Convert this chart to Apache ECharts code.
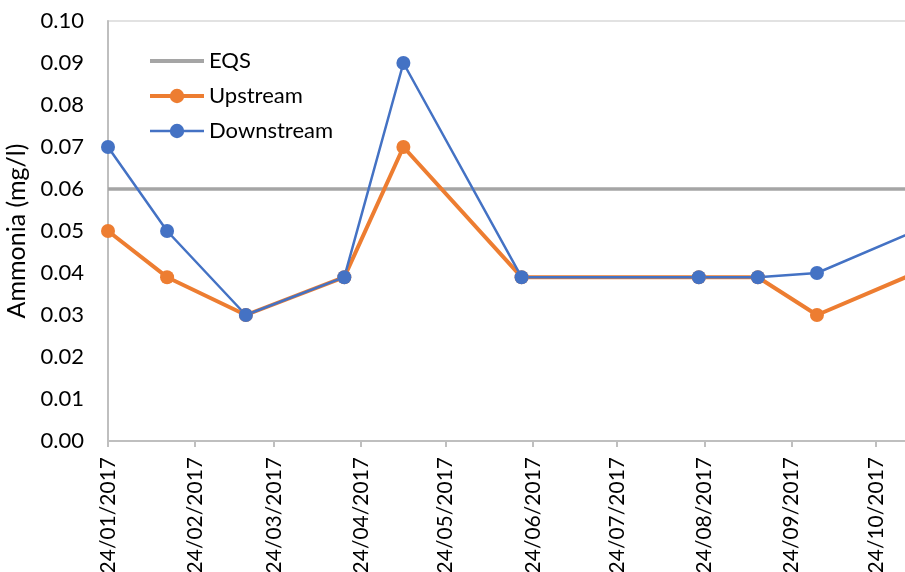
<!DOCTYPE html>
<html>
<head>
<meta charset="utf-8">
<style>
  html, body { margin: 0; padding: 0; background: #fff; }
  #chart { width: 905px; height: 572px; }
</style>
<script src="https://cdn.jsdelivr.net/npm/echarts@6/dist/echarts.min.js"></script>
</head>
<body>
<div id="chart"></div>
<script>
// Sampling dates and ammonia concentrations (mg/l)
const sampleDates = ['2017-01-24', '2017-02-14', '2017-03-14', '2017-04-18', '2017-05-09',
                     '2017-06-20', '2017-08-22', '2017-09-12', '2017-10-03', '2017-11-07'];
const upstream   = [0.05, 0.039, 0.03, 0.039, 0.07, 0.039, 0.039, 0.039, 0.03, 0.04];
const downstream = [0.07, 0.05,  0.03, 0.039, 0.09, 0.039, 0.039, 0.039, 0.04, 0.05];
const eqsLimit = 0.06;

// Axis range and tick marks (24th of each month)
const axisStart = '2017-01-24';
const axisEnd = '2017-11-04';
const tickDates = ['2017-01-24', '2017-02-24', '2017-03-24', '2017-04-24', '2017-05-24',
                   '2017-06-24', '2017-07-24', '2017-08-24', '2017-09-24', '2017-10-24'];
const yMin = 0, yMax = 0.1, yStep = 0.01;

function toTime(s) {
  const p = s.split('-').map(Number);
  return new Date(p[0], p[1] - 1, p[2]).getTime();
}
function pad(n) { return (n < 10 ? '0' : '') + n; }
function fmtDate(v) {
  const d = new Date(v);
  return pad(d.getDate()) + '/' + pad(d.getMonth() + 1) + '/' + d.getFullYear();
}

const tickTimes = tickDates.map(toTime);
const upData = sampleDates.map((d, i) => [toTime(d), upstream[i]]);
const downData = sampleDates.map((d, i) => [toTime(d), downstream[i]]);
const eqsData = [[toTime(axisStart), eqsLimit], [toTime('2017-12-31'), eqsLimit]];

const FONT = 'Lato, "Open Sans", sans-serif';
const axisGrey = '#BFBFBF';

const chart = echarts.init(document.getElementById('chart'), null, { renderer: 'canvas' });
chart.setOption({
  animation: false,
  backgroundColor: '#ffffff',
  textStyle: { fontFamily: FONT, color: '#000' },
  grid: {
    left: 108, right: -2, top: 21, bottom: 131,
    containLabel: false, outerBoundsMode: 'none',
    show: true, borderColor: '#D9D9D9', borderWidth: 1.5, backgroundColor: 'transparent'
  },
  legend: {
    orient: 'vertical',
    left: 148, top: 50, padding: 0,
    itemWidth: 54, itemHeight: 18, itemGap: 13,
    textStyle: { fontFamily: FONT, fontSize: 22, color: '#000' },
    data: [
      { name: 'EQS', icon: 'path://M0 0H54V4H0Z' },
      { name: 'Upstream', lineStyle: { width: 4 } },
      { name: 'Downstream', lineStyle: { width: 2.5 } }
    ]
  },
  xAxis: {
    type: 'value',
    min: toTime(axisStart),
    max: toTime(axisEnd),
    splitLine: { show: false },
    axisLine: { show: true, lineStyle: { color: axisGrey, width: 2 } },
    axisTick: { show: true, length: 6, lineStyle: { color: axisGrey, width: 2 }, customValues: tickTimes },
    axisLabel: {
      customValues: tickTimes,
      rotate: 90, margin: 16,
      fontFamily: FONT, fontSize: 21, color: '#000',
      formatter: fmtDate, hideOverlap: false
    }
  },
  yAxis: {
    type: 'value',
    min: yMin, max: yMax, interval: yStep,
    name: 'Ammonia (mg/l)',
    nameLocation: 'middle', nameGap: 73, nameRotate: 90,
    nameTextStyle: { fontFamily: FONT, fontSize: 25, color: '#000' },
    splitLine: { show: false },
    axisLine: { show: true, lineStyle: { color: axisGrey, width: 2 } },
    axisTick: { show: false },
    axisLabel: {
      margin: 24, fontFamily: FONT, fontSize: 22, color: '#000',
      formatter: v => v.toFixed(2)
    }
  },
  series: [
    {
      name: 'EQS', type: 'line', data: eqsData,
      symbol: 'none', color: '#A5A5A5',
      lineStyle: { color: '#A5A5A5', width: 3.5 }
    },
    {
      name: 'Upstream', type: 'line', data: upData,
      symbol: 'circle', symbolSize: 14, color: '#ED7D31',
      itemStyle: { color: '#ED7D31' },
      lineStyle: { color: '#ED7D31', width: 4 }
    },
    {
      name: 'Downstream', type: 'line', data: downData,
      symbol: 'circle', symbolSize: 14, color: '#4472C4',
      itemStyle: { color: '#4472C4' },
      lineStyle: { color: '#4472C4', width: 2.5 }
    }
  ]
});
</script>
</body>
</html>
